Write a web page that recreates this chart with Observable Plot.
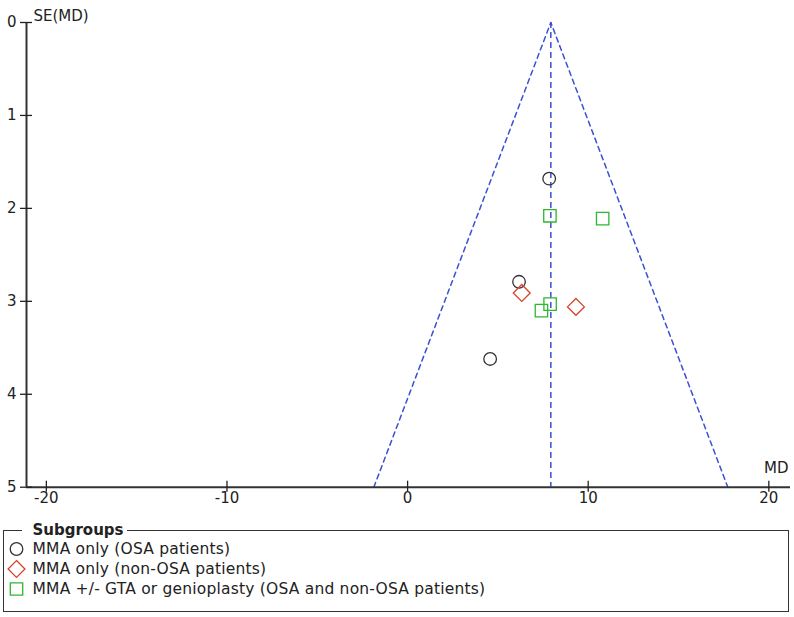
<!DOCTYPE html>
<html><head><meta charset="utf-8">
<script src="https://cdn.jsdelivr.net/npm/d3@7"></script>
<script src="https://cdn.jsdelivr.net/npm/@observablehq/plot@0.6"></script>
<style>
html,body{margin:0;padding:0;background:#fff;}
body{width:794px;height:617px;overflow:hidden;font-family:"DejaVu Sans",sans-serif;color:#222;}
#chart svg{display:block;}
fieldset{box-sizing:border-box;width:786px;margin:11px 0 0 3px;padding:0 0 12px 3px;border:1.5px solid #333;min-width:0;}
legend{margin-left:14.5px;padding:0 3px 0 11px;font-weight:bold;font-size:15px;line-height:18px;}
.row{display:flex;align-items:center;height:20px;font-size:15.5px;letter-spacing:0.2px;line-height:20px;white-space:nowrap;}
.row svg{flex:none;display:block;}
</style></head>
<body><div id="chart"></div><fieldset id="legend"><legend>Subgroups</legend></fieldset>
<script>
// Subgroups
const groupNames = ["MMA only (OSA patients)", "MMA only (non-OSA patients)", "MMA +/- GTA or genioplasty (OSA and non-OSA patients)"];
const groupSymbols = ["circle", "diamond2", "square"];
const groupColors = ["#333333", "#d9412b", "#2db82d"];
const groupRadius = [6.3, 7.6, 7];

// Studies: mean difference (MD) and standard error SE(MD)
const osaMD = [7.84, 6.17, 4.57];
const osaSE = [1.68, 2.79, 3.62];
const nonOsaMD = [6.32, 9.32];
const nonOsaSE = [2.91, 3.06];
const mixMD = [7.88, 10.8, 7.89, 7.41];
const mixSE = [2.08, 2.11, 3.03, 3.10];

// Funnel (pooled estimate and 95% limits)
const pooledMD = 7.93;
const funnelMD = [-1.87, 7.93, 17.73];
const funnelSE = [5, 0, 5];

// Axes
const xTicks = [-20, -10, 0, 10, 20];
const yTicks = [0, 1, 2, 3, 4, 5];
const xDomain = [-21.1, 21.2];
const seMax = 5;

const blue = "#3a4fd6";
const fmt = d => String(d);
const pts = (xs, ys) => xs.map((x, i) => ({x, y: ys[i]}));
const groupData = [pts(osaMD, osaSE), pts(nonOsaMD, nonOsaSE), pts(mixMD, mixSE)];

const chart = Plot.plot({
  width: 794, height: 510,
  marginLeft: 26, marginRight: 4, marginTop: 22, marginBottom: 23.3,
  style: {fontFamily: "DejaVu Sans, sans-serif", fontSize: "15px", color: "#222", background: "#fff", overflow: "visible"},
  x: {domain: xDomain},
  y: {domain: [0, seMax], reverse: true},
  marks: [
    Plot.line(pts(funnelMD, funnelSE), {x: "x", y: "y", stroke: blue, strokeWidth: 1.5, strokeDasharray: "5,4"}),
    Plot.ruleX([pooledMD], {y1: 0, y2: seMax, stroke: blue, strokeWidth: 1.5, strokeDasharray: "6,4"}),
    Plot.ruleX([xDomain[0]], {y1: 0, y2: seMax, stroke: "#333", strokeWidth: 2}),
    Plot.ruleY([seMax], {stroke: "#333", strokeWidth: 2}),
    Plot.axisY({ticks: yTicks, tickSize: 12, dx: 6, text: null, label: null, strokeWidth: 1.3}),
    Plot.axisY({ticks: yTicks, tickFormat: fmt, tickSize: 0, tickPadding: 10, label: null}),
    Plot.axisX({ticks: xTicks, tickSize: 11, dy: -6, text: null, label: null, strokeWidth: 1.3}),
    Plot.axisX({ticks: xTicks, tickFormat: fmt, tickSize: 0, tickPadding: 5, label: null}),
    Plot.text(["SE(MD)"], {frameAnchor: "top-left", dx: 7, dy: -12, textAnchor: "start"}),
    Plot.text(["MD"], {frameAnchor: "bottom-right", dx: -2, dy: -14, textAnchor: "end"}),
    ...groupData.map((data, i) => Plot.dot(data, {
      x: "x", y: "y", symbol: groupSymbols[i], r: groupRadius[i],
      stroke: groupColors[i], fill: "none", strokeWidth: 1.3
    }))
  ]
});
document.getElementById("chart").appendChild(chart);

// Legend
const d3Symbols = {circle: d3.symbolCircle, diamond2: d3.symbolDiamond2, square: d3.symbolSquare};
const fs = d3.select("#legend");
groupNames.forEach((name, i) => {
  const row = fs.append("div").attr("class", "row");
  const svg = row.append("svg").attr("width", 25.5).attr("height", 20).style("overflow", "visible");
  svg.append("path")
    .attr("transform", "translate(9.5,10)")
    .attr("d", d3.symbol(d3Symbols[groupSymbols[i]], Math.PI * groupRadius[i] * groupRadius[i])())
    .attr("fill", "none").attr("stroke", groupColors[i]).attr("stroke-width", 1.3);
  row.append("span").text(name);
});
</script>
</body></html>
